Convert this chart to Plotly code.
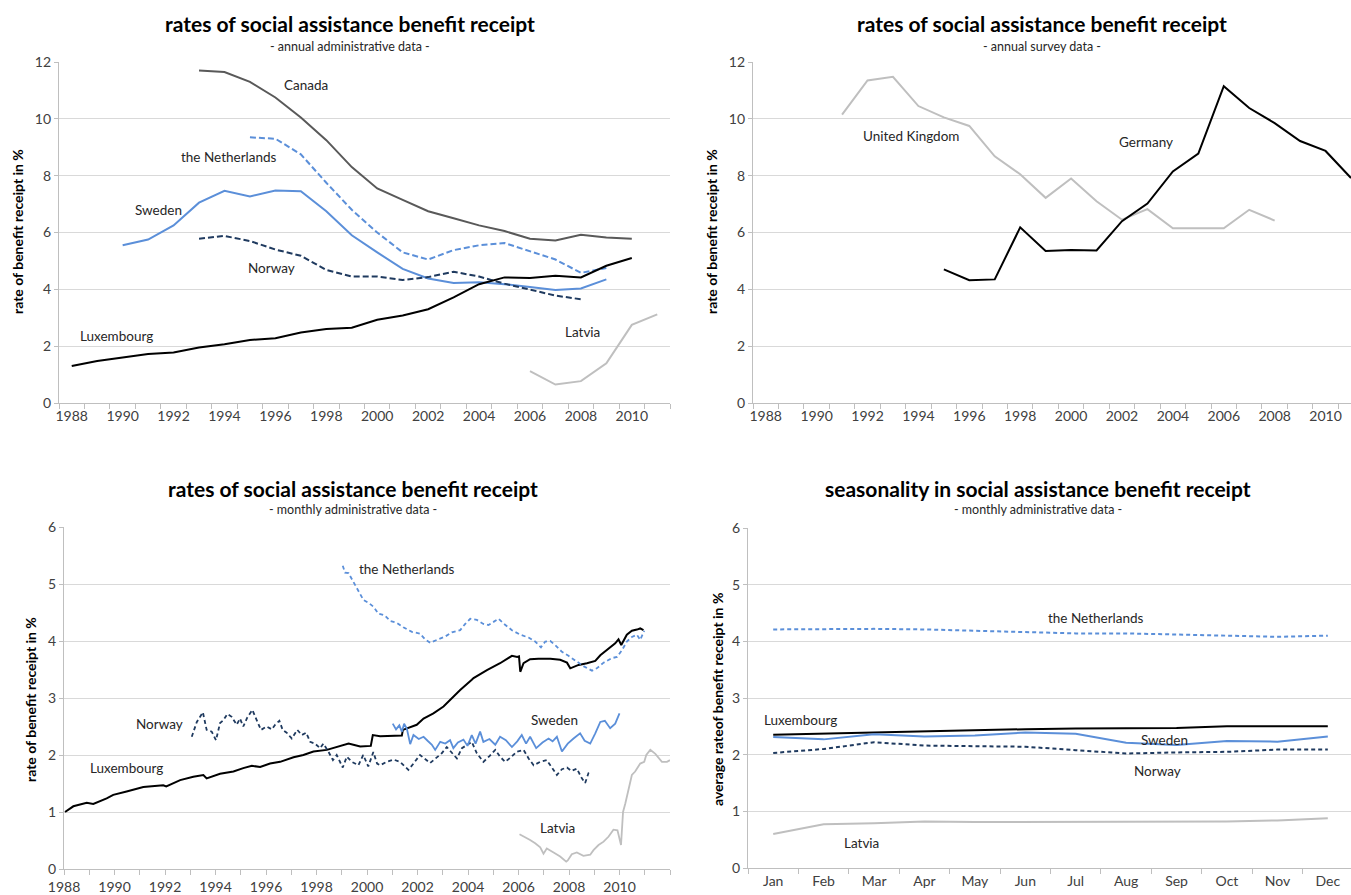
import plotly.graph_objects as go

# ---------------- DATA ----------------
# Panel 1: annual administrative data
years_canada = list(range(1993, 2011))
canada = [11.7, 11.65, 11.3, 10.75, 10.05, 9.25, 8.3, 7.55, 7.15, 6.75, 6.5, 6.25, 6.05, 5.78, 5.72, 5.92, 5.82, 5.78]
years_nl_a = list(range(1995, 2010))
netherlands_a = [9.35, 9.3, 8.75, 7.75, 6.8, 6.0, 5.3, 5.05, 5.38, 5.55, 5.63, 5.35, 5.05, 4.58, 4.75]
years_se_a = list(range(1990, 2010))
sweden_a = [5.55, 5.75, 6.25, 7.05, 7.47, 7.27, 7.48, 7.45, 6.75, 5.9, 5.3, 4.72, 4.38, 4.22, 4.25, 4.18, 4.08, 3.98, 4.03, 4.35]
years_no_a = list(range(1993, 2009))
norway_a = [5.78, 5.88, 5.7, 5.4, 5.18, 4.68, 4.45, 4.45, 4.33, 4.43, 4.62, 4.45, 4.2, 4.0, 3.78, 3.65]
years_lu_a = list(range(1988, 2011))
luxembourg_a = [1.3, 1.48, 1.6, 1.72, 1.78, 1.95, 2.07, 2.22, 2.28, 2.48, 2.6, 2.65, 2.93, 3.08, 3.3, 3.72, 4.18, 4.42, 4.4, 4.48, 4.42, 4.83, 5.1]
years_lv_a = list(range(2006, 2012))
latvia_a = [1.12, 0.65, 0.77, 1.4, 2.75, 3.12]

# Panel 2: annual survey data
years_uk = list(range(1991, 2009))
uk = [10.15, 11.35, 11.48, 10.45, 10.05, 9.75, 8.68, 8.05, 7.22, 7.9, 7.1, 6.45, 6.82, 6.15, 6.15, 6.15, 6.8, 6.42]
years_de = list(range(1995, 2012))
germany = [4.7, 4.32, 4.35, 6.18, 5.35, 5.38, 5.37, 6.4, 7.02, 8.15, 8.78, 11.15, 10.38, 9.85, 9.22, 8.87, 7.92]

# Panel 3: monthly administrative data (time in decimal years)
t_lu_m = [1988.04, 1988.37, 1988.9, 1989.16, 1989.69, 1989.95, 1990.48, 1991.14, 1991.93, 1992.05, 1992.6, 1993.12,
          1993.52, 1993.65, 1994.18, 1994.71, 1995.1, 1995.44, 1995.77, 1996.16, 1996.56, 1997.09, 1997.48, 1997.88,
          1998.41, 1998.94, 1999.27, 1999.46, 1999.73, 2000.15, 2000.23, 2000.52, 2001.31, 2001.38, 2001.42, 2001.97,
          2002.24, 2002.63, 2003.03, 2003.36, 2003.69, 2004.15, 2004.22, 2004.75, 2005.27, 2005.74, 2005.95, 2006.02,
          2006.07, 2006.2, 2006.46, 2006.79, 2007.26, 2007.65, 2007.92, 2008.05, 2008.38, 2008.71, 2009.04, 2009.24,
          2009.5, 2009.83, 2009.96, 2010.07, 2010.29, 2010.49, 2010.69, 2010.82, 2010.95]
luxembourg_m = [1.0, 1.1, 1.16, 1.14, 1.24, 1.3, 1.36, 1.44, 1.47, 1.45, 1.56, 1.62,
                1.65, 1.59, 1.67, 1.71, 1.77, 1.81, 1.79, 1.85, 1.88, 1.96, 2.0, 2.06,
                2.09, 2.15, 2.2, 2.18, 2.15, 2.16, 2.35, 2.33, 2.35, 2.34, 2.44, 2.53,
                2.64, 2.73, 2.85, 3.0, 3.14, 3.32, 3.35, 3.49, 3.61, 3.74, 3.72, 3.73,
                3.46, 3.61, 3.68, 3.69, 3.69, 3.67, 3.62, 3.52, 3.58, 3.61, 3.65, 3.75,
                3.84, 3.96, 4.03, 3.93, 4.11, 4.18, 4.2, 4.22, 4.19]

t_nl_m = [1999.04, 1999.13, 1999.27, 1999.46, 1999.66, 1999.86, 2000.06, 2000.26, 2000.45, 2000.7, 2000.92, 2001.18,
          2001.44, 2001.78, 2002.1, 2002.3, 2002.5, 2002.77, 2003.1, 2003.36, 2003.69, 2003.89, 2004.09, 2004.35,
          2004.61, 2004.81, 2005.01, 2005.21, 2005.4, 2005.74, 2006.07, 2006.4, 2006.66, 2006.89, 2007.06, 2007.26,
          2007.45, 2007.72, 2007.98, 2008.31, 2008.57, 2008.91, 2009.1, 2009.37, 2009.7, 2009.9, 2010.1, 2010.29,
          2010.49, 2010.69, 2010.82, 2010.98]
netherlands_m = [5.32, 5.2, 5.19, 5.04, 4.89, 4.72, 4.67, 4.6, 4.48, 4.45, 4.35, 4.32,
                 4.24, 4.16, 4.13, 4.03, 3.97, 4.02, 4.08, 4.15, 4.19, 4.3, 4.39, 4.37,
                 4.3, 4.28, 4.34, 4.39, 4.31, 4.19, 4.11, 4.06, 3.99, 3.89, 3.99, 4.0,
                 3.93, 3.81, 3.74, 3.64, 3.56, 3.48, 3.52, 3.62, 3.7, 3.72, 3.84, 3.99,
                 4.07, 4.11, 4.02, 4.18]

t_no_m = [1993.06, 1993.26, 1993.5, 1993.65, 1993.85, 1994.02, 1994.18, 1994.31, 1994.47, 1994.64, 1994.84, 1994.97,
          1995.1, 1995.26, 1995.46, 1995.63, 1995.8, 1996.03, 1996.23, 1996.36, 1996.53, 1996.66, 1996.82, 1997.02,
          1997.24, 1997.42, 1997.59, 1997.75, 1997.94, 1998.14, 1998.27, 1998.47, 1998.65, 1998.8, 1999.04, 1999.2,
          1999.4, 1999.66, 1999.85, 2000.05, 2000.25, 2000.4, 2000.52, 2000.78, 2001.05, 2001.31, 2001.64, 2001.84,
          2002.1, 2002.5, 2002.77, 2002.96, 2003.16, 2003.56, 2003.76, 2004.15, 2004.35, 2004.61, 2004.85, 2005.08,
          2005.27, 2005.47, 2005.7, 2005.94, 2006.2, 2006.4, 2006.6, 2006.86, 2007.12, 2007.3, 2007.52, 2007.72,
          2007.92, 2008.1, 2008.31, 2008.51, 2008.64, 2008.77, 2008.9]
norway_m = [2.32, 2.58, 2.75, 2.44, 2.41, 2.26, 2.56, 2.61, 2.72, 2.67, 2.53, 2.64,
            2.5, 2.66, 2.79, 2.61, 2.44, 2.5, 2.45, 2.53, 2.6, 2.44, 2.39, 2.29,
            2.44, 2.35, 2.39, 2.23, 2.2, 2.12, 2.2, 2.06, 1.91, 2.0, 1.78, 1.97,
            1.88, 1.82, 2.0, 1.8, 2.05, 1.85, 1.82, 1.88, 1.92, 1.88, 1.74, 1.85,
            2.0, 1.86, 1.97, 2.03, 2.14, 1.94, 2.12, 2.23, 2.03, 1.88, 1.98, 2.09,
            1.97, 1.88, 1.96, 2.06, 2.09, 1.94, 1.82, 1.88, 1.91, 1.8, 1.65, 1.75,
            1.78, 1.72, 1.76, 1.59, 1.51, 1.68, 1.69]

t_se_m = [2001.02, 2001.15, 2001.28, 2001.38, 2001.47, 2001.58, 2001.71, 2001.84, 2002.05, 2002.24, 2002.4, 2002.57,
          2002.7, 2002.9, 2003.1, 2003.29, 2003.42, 2003.6, 2003.82, 2003.98, 2004.15, 2004.3, 2004.48, 2004.61,
          2004.85, 2005.08, 2005.27, 2005.5, 2005.74, 2005.95, 2006.13, 2006.3, 2006.46, 2006.7, 2006.95, 2007.19,
          2007.35, 2007.52, 2007.72, 2007.95, 2008.18, 2008.44, 2008.62, 2008.84, 2009.04, 2009.24, 2009.42, 2009.63,
          2009.83, 2010.0]
sweden_m = [2.55, 2.45, 2.52, 2.41, 2.55, 2.46, 2.19, 2.35, 2.28, 2.32, 2.25, 2.18,
            2.09, 2.23, 2.2, 2.26, 2.12, 2.22, 2.27, 2.16, 2.35, 2.2, 2.41, 2.23,
            2.28, 2.18, 2.32, 2.26, 2.14, 2.24, 2.35, 2.2, 2.32, 2.12, 2.22, 2.29,
            2.24, 2.32, 2.06, 2.2, 2.29, 2.38, 2.25, 2.2, 2.38, 2.58, 2.6, 2.47,
            2.55, 2.73]

t_lv_m = [2006.04, 2006.26, 2006.46, 2006.66, 2006.86, 2006.99, 2007.12, 2007.39, 2007.65, 2007.89, 2007.95, 2008.11,
          2008.31, 2008.57, 2008.84, 2008.97, 2009.17, 2009.37, 2009.57, 2009.76, 2009.92, 2010.06, 2010.14, 2010.23,
          2010.36, 2010.49, 2010.62, 2010.82, 2010.98, 2011.06, 2011.22, 2011.42, 2011.68, 2011.88, 2012.0]
latvia_m = [0.61, 0.56, 0.51, 0.45, 0.38, 0.27, 0.36, 0.29, 0.22, 0.13, 0.15, 0.26,
            0.29, 0.23, 0.25, 0.33, 0.42, 0.48, 0.57, 0.69, 0.68, 0.42, 1.0, 1.15,
            1.39, 1.65, 1.71, 1.85, 1.88, 2.0, 2.09, 2.02, 1.88, 1.88, 1.91]

# Panel 4: seasonality
months = ["Jan", "Feb", "Mar", "Apr", "May", "Jun", "Jul", "Aug", "Sep", "Oct", "Nov", "Dec"]
nl_season = [4.21, 4.22, 4.22, 4.21, 4.19, 4.16, 4.14, 4.14, 4.12, 4.1, 4.08, 4.1]
lu_season = [2.35, 2.37, 2.4, 2.42, 2.43, 2.45, 2.46, 2.47, 2.47, 2.5, 2.5, 2.5]
se_season = [2.31, 2.27, 2.36, 2.32, 2.34, 2.39, 2.37, 2.21, 2.17, 2.24, 2.23, 2.32]
no_season = [2.03, 2.1, 2.22, 2.16, 2.15, 2.14, 2.08, 2.02, 2.04, 2.05, 2.09, 2.09]
lv_season = [0.6, 0.77, 0.79, 0.82, 0.81, 0.81, 0.82, 0.82, 0.82, 0.82, 0.84, 0.88]

year_labels = [str(y) for y in range(1988, 2012, 2)]

# ---------------- STYLE ----------------
W, H = 1351, 895
FONT = "Lato"
C_BLUE = "#5B8FD9"
C_NAVY = "#1F3A5F"
C_DGREY = "#595959"
C_LGREY = "#BFBFBF"
C_BLACK = "#000000"
GRID = "#D9D9D9"
AX = "#BFBFBF"
TXT = "#262626"

def fx(p):
    return p / W

def fy(p):
    return 1 - p / H

fig = go.Figure()

def add(x, y, color, dash="solid", xa="x", ya="y", width=2.0):
    fig.add_trace(go.Scatter(x=x, y=y, mode="lines", xaxis=xa, yaxis=ya,
                             line=dict(color=color, width=width, dash=dash),
                             showlegend=False, hoverinfo="skip"))

DASH = "6px,3px"
DASH_M = "4px,3px"
# panel 1
add(years_canada, canada, C_DGREY)
add(years_nl_a, netherlands_a, C_BLUE, DASH)
add(years_se_a, sweden_a, C_BLUE)
add(years_no_a, norway_a, C_NAVY, DASH)
add(years_lu_a, luxembourg_a, C_BLACK)
add(years_lv_a, latvia_a, C_LGREY)
# panel 2
add(years_uk, uk, C_LGREY, xa="x2", ya="y2")
add(years_de, germany, C_BLACK, xa="x2", ya="y2")
# panel 3
add(t_lu_m, luxembourg_m, C_BLACK, xa="x3", ya="y3")
add(t_nl_m, netherlands_m, C_BLUE, DASH_M, xa="x3", ya="y3", width=1.8)
add(t_no_m, norway_m, C_NAVY, DASH_M, xa="x3", ya="y3", width=1.8)
add(t_se_m, sweden_m, C_BLUE, xa="x3", ya="y3", width=1.8)
add(t_lv_m, latvia_m, C_LGREY, xa="x3", ya="y3", width=1.8)
# panel 4
mi = list(range(len(months)))
add(mi, nl_season, C_BLUE, DASH_M, xa="x4", ya="y4")
add(mi, lu_season, C_BLACK, xa="x4", ya="y4")
add(mi, se_season, C_BLUE, xa="x4", ya="y4")
add(mi, no_season, C_NAVY, DASH_M, xa="x4", ya="y4")
add(mi, lv_season, C_LGREY, xa="x4", ya="y4")

tickfont = dict(family=FONT, size=14, color="#404040")

def yaxis(domain, rng, dtick, anchor):
    return dict(domain=domain, range=rng, dtick=dtick, tick0=0, showgrid=True, gridcolor=GRID,
                gridwidth=1.3, showline=True, linecolor=AX, linewidth=1.2, ticks="outside",
                ticklen=4, tickcolor=AX, tickfont=tickfont, zeroline=False, anchor=anchor,
                automargin=False, fixedrange=True)

def xaxis_cat(domain, rng, vals, texts, bounds, anchor):
    return dict(domain=domain, range=rng, tickmode="array", tickvals=vals, ticktext=texts,
                ticks="outside", ticklen=0, tickcolor=AX, showgrid=False, showline=True,
                linecolor=AX, linewidth=1.2, zeroline=False, tickfont=tickfont, anchor=anchor,
                automargin=False,
                minor=dict(tickmode="array", tickvals=bounds, ticks="outside", ticklen=5,
                           tickcolor=AX, showgrid=False),
                fixedrange=True)

even_years = list(range(1988, 2012, 2))
bounds_years = [1987.5 + i for i in range(25)]

ydom_top = [fy(403), fy(62)]
ydom_bot = [fy(869), fy(527)]

fig.update_layout(
    width=W, height=H, margin=dict(l=0, r=0, t=0, b=0, autoexpand=False),
    paper_bgcolor="white", plot_bgcolor="white",
    font=dict(family=FONT, color=TXT),
    xaxis=xaxis_cat([fx(59), fx(670)], [1987.5, 2011.5], even_years, year_labels, bounds_years, "y"),
    yaxis=yaxis(ydom_top, [0, 12], 2, "x"),
    xaxis2=xaxis_cat([fx(753), 1.0], [1987.5, 2011.0], even_years, year_labels, bounds_years, "y2"),
    yaxis2=yaxis(ydom_top, [0, 12], 2, "x2"),
    xaxis3=dict(domain=[fx(64), fx(670)], range=[1988, 2012], tickmode="array",
                tickvals=list(range(1988, 2013)),
                ticktext=[str(y) if (y % 2 == 0 and y <= 2010) else "" for y in range(1988, 2013)],
                ticks="outside", ticklen=5, tickcolor=AX, showgrid=False, showline=True,
                linecolor=AX, linewidth=1.2, zeroline=False, tickfont=tickfont, anchor="y3",
                automargin=False, fixedrange=True),
    yaxis3=yaxis(ydom_bot, [0, 6], 1, "x3"),
    xaxis4=xaxis_cat([fx(748), 1.0], [-0.5, 11.46], mi, months,
                     [-0.5 + i for i in range(13)], "y4"),
    yaxis4=yaxis([fy(868), fy(528)], [0, 6], 1, "x4"),
)

ann = []
def title(text, sub, cx, ty, sy):
    ann.append(dict(text="<b>%s</b>" % text, x=fx(cx), y=fy(ty), xref="paper", yref="paper",
                    showarrow=False, font=dict(family=FONT, size=21, color="#000000"),
                    xanchor="center", yanchor="middle"))
    ann.append(dict(text=sub, x=fx(cx), y=fy(sy), xref="paper", yref="paper",
                    showarrow=False, font=dict(family=FONT, size=12.5, color=TXT),
                    xanchor="center", yanchor="middle"))

title("rates of social assistance benefit receipt", "- annual administrative data -", 350, 23, 46)
title("rates of social assistance benefit receipt", "- annual survey data -", 1042, 23, 46)
title("rates of social assistance benefit receipt", "- monthly administrative data -", 353, 488, 509)
title("seasonality in social assistance benefit receipt", "- monthly administrative data -", 1038, 488, 509)

def ytitle(text, cx, cy):
    ann.append(dict(text="<b>%s</b>" % text, x=fx(cx), y=fy(cy), xref="paper", yref="paper",
                    showarrow=False, textangle=-90, font=dict(family=FONT, size=14, color="#000000"),
                    xanchor="center", yanchor="middle"))

ytitle("rate of benefit receipt in %", 18, 232)
ytitle("rate of benefit receipt in %", 712, 232)
ytitle("rate of benefit receipt in %", 30, 700)
ytitle("average rateof benefit receipt in %", 717, 700)

def lab(text, x, y, xr, yr):
    ann.append(dict(text=text, x=x, y=y, xref=xr, yref=yr, showarrow=False,
                    font=dict(family=FONT, size=13.5, color=TXT), xanchor="center", yanchor="middle"))

lab("Canada", 1997.2, 11.19, "x", "y")
lab("the Netherlands", 1994.18, 8.66, "x", "y")
lab("Sweden", 1991.4, 6.79, "x", "y")
lab("Norway", 1995.83, 4.75, "x", "y")
lab("Luxembourg", 1989.76, 2.36, "x", "y")
lab("Latvia", 2008.08, 2.5, "x", "y")

lab("United Kingdom", 1993.7, 9.39, "x2", "y2")
lab("Germany", 2002.93, 9.18, "x2", "y2")

lab("the Netherlands", 2001.59, 5.26, "x3", "y3")
lab("Norway", 1991.8, 2.54, "x3", "y3")
lab("Luxembourg", 1990.46, 1.77, "x3", "y3")
lab("Sweden", 2007.41, 2.61, "x3", "y3")
lab("Latvia", 2007.53, 0.72, "x3", "y3")

lab("the Netherlands", 6.4, 4.41, "x4", "y4")
lab("Luxembourg", 0.54, 2.61, "x4", "y4")
lab("Sweden", 7.77, 2.26, "x4", "y4")
lab("Norway", 7.63, 1.71, "x4", "y4")
lab("Latvia", 1.76, 0.44, "x4", "y4")

fig.update_layout(annotations=ann)
fig.write_html("out.html", config={"displayModeBar": False},
               post_script="document.body.style.margin='0px';")
